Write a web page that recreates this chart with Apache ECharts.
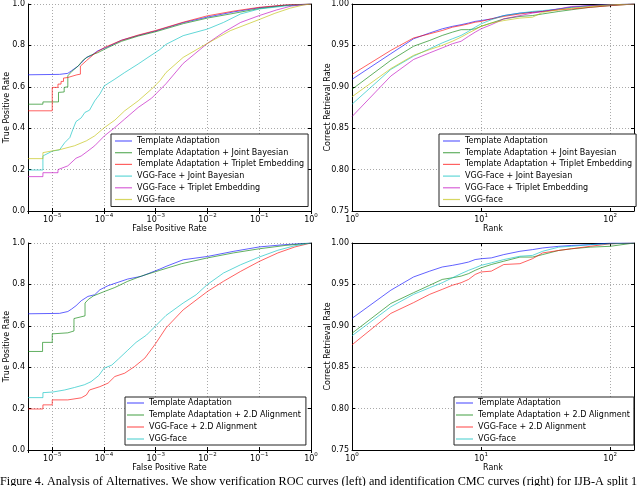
<!DOCTYPE html>
<html>
<head>
<meta charset="utf-8">
<script src="https://cdn.jsdelivr.net/npm/echarts@6/dist/echarts.min.js"></script>
<style>
html, body { margin: 0; padding: 0; background: #fff; }
#chart { width: 640px; height: 486px; }
</style>
</head>
<body>
<div id="chart"></div>
<script>
// ROC curves, top panel: [false positive rate, true positive rate]
const rocTopTA = [[3.4e-6,0.658],[1.38e-5,0.66],[2.0e-5,0.665],[2.34e-5,0.677],[3.16e-5,0.70],[3.63e-5,0.715],[4.57e-5,0.742],[5.62e-5,0.75],[7.59e-5,0.774],[1.2e-4,0.794],[2.19e-4,0.825],[4.57e-4,0.848],[1e-3,0.87],[3.39e-3,0.91],[1e-2,0.937],[3.24e-2,0.962],[0.1,0.982],[0.309,0.994],[1,1]];
const rocTopJB = [[3.4e-6,0.516],[6.6e-6,0.516],[6.6e-6,0.527],[1.32e-5,0.527],[1.32e-5,0.573],[1.7e-5,0.575],[1.7e-5,0.597],[2.0e-5,0.60],[2.0e-5,0.653],[2.4e-5,0.675],[3.16e-5,0.70],[3.98e-5,0.73],[5.25e-5,0.75],[7.59e-5,0.765],[1.2e-4,0.79],[2.19e-4,0.82],[4.57e-4,0.845],[1e-3,0.866],[3.39e-3,0.905],[1e-2,0.932],[3.24e-2,0.955],[0.1,0.978],[0.309,0.993],[1,1]];
const rocTopTE = [[3.4e-6,0.484],[1e-5,0.484],[1e-5,0.597],[1.29e-5,0.597],[1.29e-5,0.613],[1.48e-5,0.613],[1.48e-5,0.626],[1.65e-5,0.626],[1.65e-5,0.642],[2.0e-5,0.645],[2.0e-5,0.653],[3.0e-5,0.658],[3.5e-5,0.661],[3.5e-5,0.70],[4.57e-5,0.726],[6.61e-5,0.761],[1.02e-4,0.79],[2.19e-4,0.825],[4.57e-4,0.85],[1e-3,0.872],[3.39e-3,0.912],[1e-2,0.943],[3.24e-2,0.966],[0.1,0.984],[0.309,0.995],[1,1]];
const rocTopVJB = [[3.4e-6,0.198],[6.6e-6,0.198],[6.6e-6,0.266],[1.02e-5,0.29],[1.38e-5,0.295],[1.74e-5,0.33],[2.19e-5,0.355],[2.51e-5,0.395],[2.88e-5,0.432],[3.63e-5,0.45],[4.27e-5,0.476],[5.25e-5,0.487],[6.61e-5,0.532],[8.32e-5,0.565],[1.02e-4,0.605],[1.62e-4,0.637],[2.51e-4,0.669],[4.57e-4,0.71],[7.08e-4,0.742],[1.2e-3,0.78],[1.58e-3,0.805],[3.39e-3,0.847],[1e-2,0.879],[2.04e-2,0.911],[4.37e-2,0.952],[0.1,0.976],[0.309,0.99],[1,1]];
const rocTopVTE = [[3.4e-6,0.166],[6.6e-6,0.166],[6.6e-6,0.185],[1.29e-5,0.185],[1.29e-5,0.2],[2.0e-5,0.218],[2.88e-5,0.255],[3.63e-5,0.266],[4.9e-5,0.29],[6.61e-5,0.315],[1.02e-4,0.363],[1.62e-4,0.403],[2.51e-4,0.444],[4.57e-4,0.5],[8.32e-4,0.545],[1.2e-3,0.585],[1.58e-3,0.615],[3.39e-3,0.713],[1e-2,0.81],[2.04e-2,0.863],[4.37e-2,0.911],[0.1,0.944],[0.214,0.971],[0.417,0.99],[1,1]];
const rocTopVGG = [[3.4e-6,0.253],[6.6e-6,0.253],[6.6e-6,0.282],[1.48e-5,0.298],[2.69e-5,0.315],[4.57e-5,0.339],[6.61e-5,0.363],[1.02e-4,0.403],[1.62e-4,0.439],[2.51e-4,0.484],[4.57e-4,0.532],[8.32e-4,0.589],[1.2e-3,0.629],[1.58e-3,0.669],[3.39e-3,0.742],[1e-2,0.81],[2.75e-2,0.871],[0.1,0.925],[0.2,0.955],[0.398,0.98],[0.708,0.995],[1,1]];

// ROC curves, bottom panel
const rocBotTA = [[3.4e-6,0.658],[1.38e-5,0.66],[2.0e-5,0.669],[2.34e-5,0.68],[2.88e-5,0.697],[3.63e-5,0.721],[4.9e-5,0.742],[6.61e-5,0.75],[8.32e-5,0.774],[1.2e-4,0.794],[1.86e-4,0.81],[2.88e-4,0.826],[5.25e-4,0.839],[1.2e-3,0.874],[1.58e-3,0.887],[3.39e-3,0.919],[1e-2,0.935],[3.24e-2,0.96],[0.1,0.981],[0.309,0.992],[1,1]];
const rocBotTA2D = [[3.4e-6,0.476],[6.5e-6,0.476],[6.5e-6,0.52],[1e-5,0.52],[1e-5,0.561],[2.0e-5,0.566],[2.0e-5,0.575],[2.63e-5,0.575],[2.63e-5,0.635],[4.3e-5,0.648],[4.3e-5,0.71],[5.01e-5,0.728],[6.31e-5,0.745],[1e-4,0.765],[1.62e-4,0.785],[2.88e-4,0.815],[5.25e-4,0.84],[1.2e-3,0.868],[3.16e-3,0.9],[1e-2,0.928],[3.16e-2,0.952],[0.1,0.972],[0.316,0.988],[1,1]];
const rocBotV2D = [[3.4e-6,0.198],[6.6e-6,0.198],[6.6e-6,0.218],[1e-5,0.218],[1e-5,0.242],[2.0e-5,0.242],[2.0e-5,0.25],[3.63e-5,0.252],[4.57e-5,0.266],[5.25e-5,0.29],[8.32e-5,0.306],[1.2e-4,0.323],[1.62e-4,0.355],[2.51e-4,0.371],[3.89e-4,0.403],[6.17e-4,0.444],[1e-3,0.515],[1.58e-3,0.59],[3.39e-3,0.677],[1e-2,0.766],[2.04e-2,0.815],[4.37e-2,0.863],[0.1,0.911],[0.229,0.952],[0.49,0.981],[1,1]];
const rocBotVGG = [[3.4e-6,0.253],[6.6e-6,0.253],[6.6e-6,0.277],[1.02e-5,0.28],[1.74e-5,0.29],[2.69e-5,0.302],[4.17e-5,0.315],[5.62e-5,0.33],[7.94e-5,0.36],[1e-4,0.395],[1.41e-4,0.41],[1.91e-4,0.44],[2.82e-4,0.48],[4.17e-4,0.52],[6.61e-4,0.555],[1e-3,0.6],[1.58e-3,0.65],[3.39e-3,0.71],[6.03e-3,0.75],[1e-2,0.8],[2.04e-2,0.855],[4.37e-2,0.895],[0.1,0.932],[0.229,0.965],[0.49,0.987],[1,1]];

// CMC curves: retrieval rate at each rank
const ranks = [1,2,3,4,5,6,7,8,9,10,12,15,20,25,30,40,50,70,100,153];
const cmcTopTA  = [0.909,0.940,0.958,0.965,0.970,0.973,0.975,0.977,0.979,0.980,0.982,0.986,0.989,0.990,0.991,0.994,0.996,0.998,0.999,1.0];
const cmcTopJB  = [0.897,0.932,0.949,0.956,0.962,0.966,0.969,0.969,0.970,0.973,0.977,0.982,0.985,0.986,0.988,0.991,0.993,0.996,0.998,1.0];
const cmcTopTE  = [0.915,0.944,0.959,0.964,0.968,0.972,0.974,0.976,0.978,0.979,0.982,0.985,0.988,0.990,0.991,0.993,0.994,0.996,0.998,1.0];
const cmcTopVJB = [0.879,0.921,0.937,0.946,0.953,0.958,0.962,0.967,0.972,0.976,0.981,0.986,0.989,0.991,0.992,0.994,0.996,0.998,0.999,1.0];
const cmcTopVTE = [0.864,0.913,0.933,0.941,0.947,0.952,0.955,0.961,0.966,0.970,0.975,0.982,0.986,0.989,0.991,0.994,0.997,0.998,0.999,1.0];
const cmcTopVGG = [0.888,0.922,0.938,0.945,0.950,0.955,0.960,0.965,0.969,0.973,0.977,0.980,0.983,0.984,0.990,0.993,0.995,0.997,0.999,1.0];
const cmcBotTA   = [0.909,0.943,0.959,0.966,0.971,0.973,0.975,0.977,0.980,0.981,0.982,0.986,0.990,0.992,0.994,0.996,0.997,0.998,1.0,1.0];
const cmcBotTA2D = [0.891,0.927,0.940,0.949,0.956,0.958,0.960,0.963,0.967,0.970,0.974,0.978,0.983,0.983,0.986,0.991,0.993,0.995,0.996,1.0];
const cmcBotV2D  = [0.877,0.915,0.928,0.938,0.944,0.949,0.952,0.956,0.962,0.965,0.966,0.974,0.975,0.981,0.988,0.991,0.993,0.996,0.999,1.0];
const cmcBotVGG  = [0.888,0.923,0.938,0.946,0.952,0.958,0.963,0.967,0.970,0.973,0.976,0.980,0.984,0.985,0.990,0.995,0.996,0.998,0.999,1.0];

const caption = 'Figure 4. Analysis of Alternatives. We show verification ROC curves (left) and identification CMC curves (right) for IJB-A split 1';

const FONT = 'DejaVu Sans';
const C = {
  b: 'rgba(0,0,255,0.62)',
  g: 'rgba(0,128,0,0.62)',
  r: 'rgba(255,0,0,0.62)',
  c: 'rgba(0,191,191,0.62)',
  m: 'rgba(191,0,191,0.62)',
  y: 'rgba(191,191,0,0.62)'
};

const cmcPairs = vals => ranks.map((r, i) => [r, vals[i]]);

const panels = [
  { grid: {left: 28, top: 4, width: 283, height: 207}, roc: true, legend: {left: 111, top: 134, padding: [2, 4, 2, 4], gap: 1.7},
    lines: [['Template Adaptation', C.b, rocTopTA], ['Template Adaptation + Joint Bayesian', C.g, rocTopJB],
            ['Template Adaptation + Triplet Embedding', C.r, rocTopTE], ['VGG-Face + Joint Bayesian', C.c, rocTopVJB],
            ['VGG-Face + Triplet Embedding', C.m, rocTopVTE], ['VGG-face', C.y, rocTopVGG]] },
  { grid: {left: 352, top: 4, width: 282, height: 207}, roc: false, legend: {left: 439, top: 134, padding: [2, 4, 2, 4], gap: 1.7},
    lines: [['Template Adaptation', C.b, cmcPairs(cmcTopTA)], ['Template Adaptation + Joint Bayesian', C.g, cmcPairs(cmcTopJB)],
            ['Template Adaptation + Triplet Embedding', C.r, cmcPairs(cmcTopTE)], ['VGG-Face + Joint Bayesian', C.c, cmcPairs(cmcTopVJB)],
            ['VGG-Face + Triplet Embedding', C.m, cmcPairs(cmcTopVTE)], ['VGG-face', C.y, cmcPairs(cmcTopVGG)]] },
  { grid: {left: 28, top: 243, width: 283, height: 207}, roc: true, legend: {left: 125, top: 397, padding: [1, 5, 1, 2], gap: 2},
    lines: [['Template Adaptation', C.b, rocBotTA], ['Template Adaptation + 2.D Alignment', C.g, rocBotTA2D],
            ['VGG-Face + 2.D Alignment', C.r, rocBotV2D], ['VGG-face', C.c, rocBotVGG]] },
  { grid: {left: 352, top: 243, width: 282, height: 207}, roc: false, legend: {left: 454, top: 397, padding: [1, 4, 1, 2], gap: 2},
    lines: [['Template Adaptation', C.b, cmcPairs(cmcBotTA)], ['Template Adaptation + 2.D Alignment', C.g, cmcPairs(cmcBotTA2D)],
            ['VGG-Face + 2.D Alignment', C.r, cmcPairs(cmcBotV2D)], ['VGG-face', C.c, cmcPairs(cmcBotVGG)]] }
];

function powLabel(v) {
  const e = Math.log10(v);
  const r = Math.round(e);
  if (Math.abs(e - r) > 1e-6) return '';
  return '{b|10}{s|' + (r < 0 ? '\u2212' + (-r) : r) + '}';
}

const tickStyle = {show: true, inside: true, length: 3, lineStyle: {color: '#000', width: 1}};
const lineStyle = {show: true, lineStyle: {color: '#000', width: 1}};
const gridLine = {show: true, lineStyle: {color: '#aaa', type: [1, 2], width: 1}};
const nameStyle = {fontSize: 8, fontFamily: FONT, color: '#000'};

const option = {animation: false, grid: [], xAxis: [], yAxis: [], series: [], legend: [],
  graphic: [{type: 'text', left: 0, top: 476, style: {text: caption, font: '12.2px "Liberation Serif"', fill: '#000'}}]};

panels.forEach((p, i) => {
  option.grid.push(Object.assign({show: false}, p.grid));
  const xBase = p.roc ? {type: 'log', logBase: 10, min: 3.4e-6, max: 1} : {type: 'log', logBase: 10, min: 1, max: 153};
  const yBase = p.roc ? {type: 'value', min: 0, max: 1, interval: 0.2} : {type: 'value', min: 0.75, max: 1, interval: 0.05};
  option.xAxis.push(Object.assign({}, xBase, {
    gridIndex: i, position: 'bottom', axisLine: lineStyle, axisTick: tickStyle, splitLine: gridLine,
    name: p.roc ? 'False Positive Rate' : 'Rank', nameLocation: 'middle', nameGap: 14, nameMoveOverlap: false,
    nameTextStyle: nameStyle,
    axisLabel: {interval: 0, margin: 2, formatter: powLabel, color: '#000',
      rich: {b: {fontSize: 8, fontFamily: FONT, lineHeight: 11, verticalAlign: 'bottom'},
             s: {fontSize: 5.5, fontFamily: FONT, lineHeight: 7, verticalAlign: 'top'}}}
  }));
  option.xAxis.push(Object.assign({}, xBase, {
    gridIndex: i, position: 'top', axisLine: lineStyle, axisTick: tickStyle, axisLabel: {show: false}, splitLine: {show: false}
  }));
  option.yAxis.push(Object.assign({}, yBase, {
    gridIndex: i, position: 'left', axisLine: lineStyle, axisTick: tickStyle, splitLine: gridLine,
    name: p.roc ? 'True Positive Rate' : 'Correct Retrieval Rate', nameLocation: 'middle',
    nameGap: p.roc ? 17 : 20, nameMoveOverlap: false, nameTextStyle: nameStyle,
    axisLabel: {margin: 3, color: '#000', fontSize: 8, fontFamily: FONT,
      formatter: v => v.toFixed(p.roc ? 1 : 2)}
  }));
  option.yAxis.push(Object.assign({}, yBase, {
    gridIndex: i, position: 'right', axisLine: lineStyle, axisTick: tickStyle, axisLabel: {show: false}, splitLine: {show: false}
  }));
  const names = [];
  p.lines.forEach(([label, color, data]) => {
    const name = 'p' + i + '|' + label;
    names.push(name);
    option.series.push({
      name: name, type: 'line', xAxisIndex: 2 * i, yAxisIndex: 2 * i,
      data: data, showSymbol: false, symbol: 'none', color: color,
      itemStyle: {color: color}, lineStyle: {color: color, width: 1},
      emphasis: {disabled: true}
    });
  });
  option.legend.push({
    left: p.legend.left, top: p.legend.top, orient: 'vertical', data: names,
    formatter: n => n.split('|')[1], icon: 'rect', itemWidth: 17, itemHeight: 1.2,
    itemGap: p.legend.gap, padding: p.legend.padding, borderColor: '#222', borderWidth: 1,
    backgroundColor: '#fff', selectedMode: false,
    textStyle: {fontSize: 8, fontFamily: FONT, color: '#000', lineHeight: 10}
  });
});

const chart = echarts.init(document.getElementById('chart'));
chart.setOption(option);
</script>
</body>
</html>
